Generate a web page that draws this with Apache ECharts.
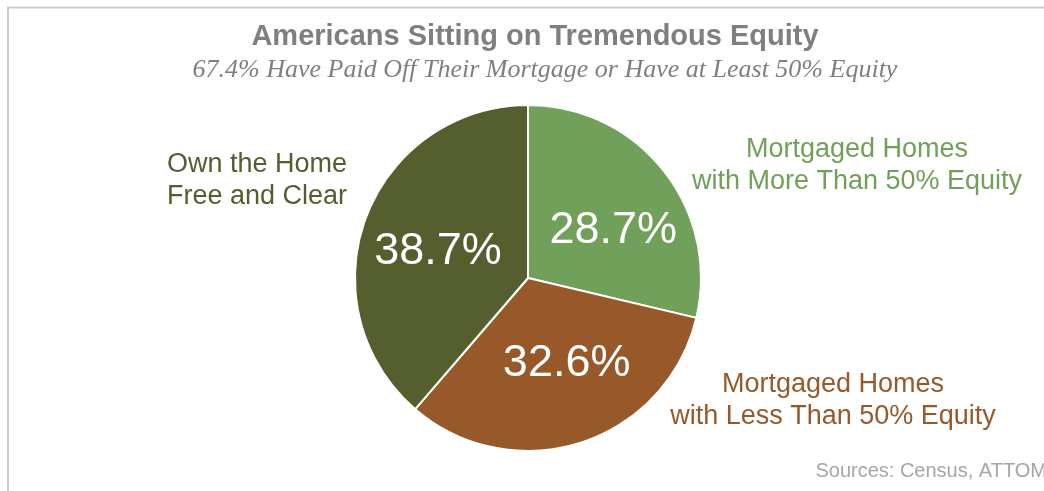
<!DOCTYPE html>
<html>
<head>
<meta charset="utf-8">
<script src="https://cdn.jsdelivr.net/npm/echarts@6/dist/echarts.min.js"></script>
<style>
  html, body { margin: 0; padding: 0; background: #fff; }
  #main { width: 1044px; height: 491px; }
</style>
</head>
<body>
<div id="main"></div>
<script>
  // data
  var names = ['Mortgaged Homes\nwith More Than 50% Equity', 'Mortgaged Homes\nwith Less Than 50% Equity', 'Own the Home\nFree and Clear'];
  var values = [28.7, 32.6, 38.7];
  var colors = ['#71a05b', '#98592a', '#545e2f'];

  // where the category names sit (centre of the two-line block)
  var namePos = [[857, 166], [833, 401], [257, 181]];
  // small nudges for the percent labels
  var pctNudge = [[15, 8], [11, 0], [-6, 5]];

  var font = 'Liberation Sans, Arial, sans-serif';

  var pieData = [];
  var nameData = [];
  for (var i = 0; i < values.length; i++) {
    pieData.push({ name: names[i], value: values[i], itemStyle: { color: colors[i] } });
    nameData.push({ name: names[i], value: values[i], label: { color: colors[i] } });
  }

  var chart = echarts.init(document.getElementById('main'));
  chart.setOption({
    animation: false,
    title: [
      {
        text: 'Americans Sitting on Tremendous Equity',
        left: 535, top: 22, textAlign: 'center', padding: 0,
        textStyle: { fontFamily: font, fontSize: 29, fontWeight: 'bold', color: '#7f7f7f' }
      },
      {
        text: '67.4% Have Paid Off Their Mortgage or Have at Least 50% Equity',
        left: 545, top: 57, textAlign: 'center', padding: 0,
        textStyle: { fontFamily: 'Liberation Serif, Times New Roman, serif', fontSize: 26, fontStyle: 'italic', fontWeight: 'normal', color: '#7f7f7f' }
      },
      {
        text: 'Sources: Census, ATTOM',
        left: 1047, top: 461, textAlign: 'right', padding: 0,
        textStyle: { fontFamily: font, fontSize: 20, fontWeight: 'normal', color: '#a6a6a6' }
      }
    ],
    graphic: [
      {
        type: 'polyline',
        shape: { points: [[8, 491], [8, 7.5], [1044, 7.5]] },
        style: { stroke: '#cbcbcb', lineWidth: 2, fill: null }
      }
    ],
    series: [
      {
        type: 'pie',
        silent: true,
        center: [528, 278],
        radius: 173,
        startAngle: 90,
        clockwise: true,
        z: 1,
        itemStyle: { color: 'transparent', borderWidth: 0 },
        label: {
          show: true,
          position: 'outside',
          formatter: '{b}',
          fontFamily: font,
          fontSize: 27,
          lineHeight: 32,
          align: 'center',
          overflow: 'none',
          width: 400
        },
        labelLine: { show: false },
        labelLayout: function (p) {
          var pos = namePos[p.dataIndex];
          return { x: pos[0], y: pos[1], align: 'center', verticalAlign: 'middle' };
        },
        data: nameData
      },
      {
        type: 'pie',
        silent: true,
        center: [528, 278],
        radius: 173,
        startAngle: 90,
        clockwise: true,
        z: 2,
        itemStyle: { borderColor: '#ffffff', borderWidth: 2 },
        label: {
          show: true,
          position: 'inside',
          formatter: '{c}%',
          color: '#ffffff',
          fontFamily: font,
          fontSize: 45
        },
        labelLine: { show: false },
        labelLayout: function (p) {
          var n = pctNudge[p.dataIndex];
          return { dx: n[0], dy: n[1] };
        },
        data: pieData
      }
    ]
  });
</script>
</body>
</html>
